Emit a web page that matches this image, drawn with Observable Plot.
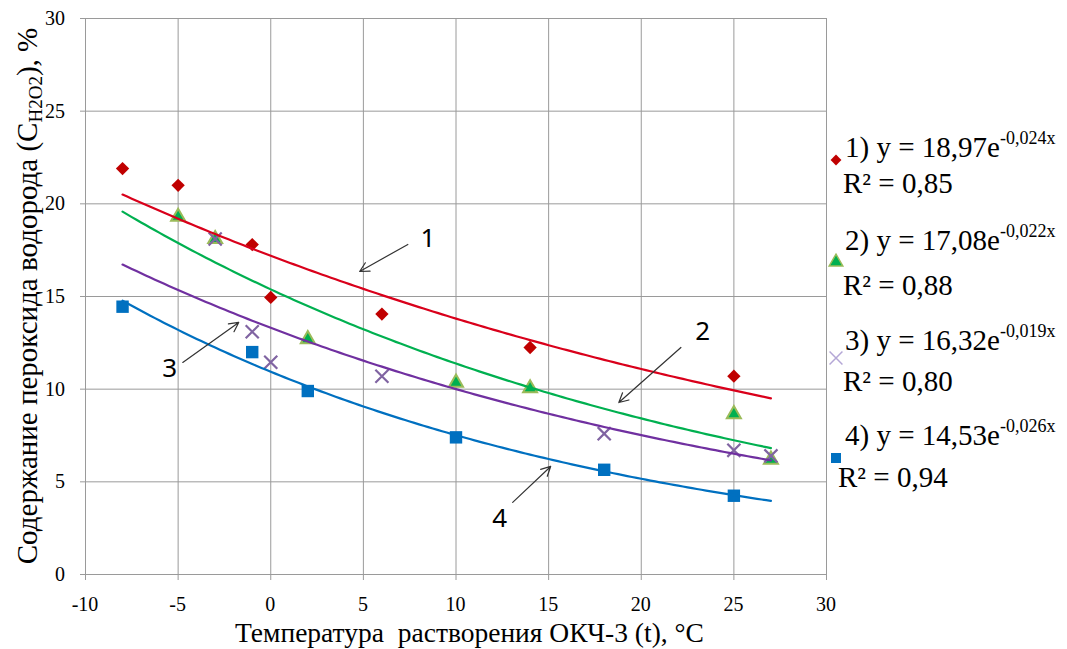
<!DOCTYPE html>
<html><head><meta charset="utf-8">
<script src="https://cdn.jsdelivr.net/npm/d3@7"></script>
<script src="https://cdn.jsdelivr.net/npm/@observablehq/plot@0.6"></script>
<style>
body{margin:0;background:#fff;}
#chart{position:relative;width:1067px;height:649px;overflow:hidden;}
#chart svg text.serif, #chart svg text.serif tspan {font-family:"Liberation Serif", serif;}
</style></head><body><div id="chart"></div>
<script>
// ---- data ----
const xTicks = [-10, -5, 0, 5, 10, 15, 20, 25, 30];
const yTicks = [0, 5, 10, 15, 20, 25, 30];

const s1x = [-8, -5, -1, 0, 6, 14, 25];
const s1y = [21.9, 21.0, 17.8, 14.95, 14.05, 12.25, 10.7];
const s2x = [-5, -3, 2, 10, 14, 25, 27];
const s2y = [19.3, 18.1, 12.7, 10.35, 10.05, 8.65, 6.2];
const s3x = [-3, -1, 0, 6, 18, 25, 27];
const s3y = [18.1, 13.1, 11.45, 10.7, 7.6, 6.7, 6.4];
const s4x = [-8, -1, 2, 10, 18, 25];
const s4y = [14.45, 12.0, 9.9, 7.4, 5.65, 4.25];
const trendRange = [-8, 27];

const legendEq = ["1) y = 18,97e", "2) y = 17,08e", "3) y = 16,32e", "4) y = 14,53e"];
const legendExp = ["-0,024x", "-0,022x", "-0,019x", "-0,026x"];
const legendR2 = ["R² = 0,85", "R² = 0,88", "R² = 0,80", "R² = 0,94"];

const annLabels = ["1", "2", "3", "4"];
const annTextX = [8.48, 23.32, -5.45, 12.36];
const annTextY = [18.13, 13.11, 11.12, 3.02];
const arrowX1 = [7.40, 22.14, -4.75, 13.06];
const arrowY1 = [17.81, 12.25, 11.44, 3.89];
const arrowX2 = [4.80, 18.79, -1.73, 15.11];
const arrowY2 = [16.35, 9.28, 13.6, 5.83];

const xTitle = "Температура  растворения ОКЧ-3 (t), °С";

// ---- helpers ----
const SERIF = "Liberation Serif";
const pts = (xs, ys) => xs.map((x, i) => ({x, y: ys[i]}));
// exponential least-squares trendline (Excel style: fit of ln y)
function expTrend(xs, ys) {
  const ly = ys.map(Math.log);
  const mx = d3.mean(xs), my = d3.mean(ly);
  let sxy = 0, sxx = 0;
  xs.forEach((x, i) => { sxy += (x - mx) * (ly[i] - my); sxx += (x - mx) ** 2; });
  const b = sxy / sxx, a = Math.exp(my - b * mx);
  const out = [];
  for (let x = trendRange[0]; x <= trendRange[1] + 1e-9; x += 0.25) out.push({x, y: a * Math.exp(b * x)});
  return out;
}

const d1 = pts(s1x, s1y), d2 = pts(s2x, s2y), d3p = pts(s3x, s3y), d4 = pts(s4x, s4y);
const ann = annLabels.map((t, i) => ({t, x: annTextX[i], y: annTextY[i], x1: arrowX1[i], y1: arrowY1[i], x2: arrowX2[i], y2: arrowY2[i]}));

const C = {
  red: "#C00000", redLine: "#D9001B",
  green: "#00B050", greenEdge: "#9BBB59",
  purple: "#7030A0", purpleMk: "#8064A2",
  blue: "#0070C0"
};

const plot = Plot.plot({
  width: 1067, height: 649,
  marginLeft: 85, marginRight: 241, marginTop: 18, marginBottom: 75,
  style: {background: "#fff", color: "#000"},
  x: {domain: [-10, 30]},
  y: {domain: [0, 30]},
  marks: [
    Plot.gridX(xTicks, {stroke: "#9a9a9a", strokeOpacity: 1}),
    Plot.gridY(yTicks, {stroke: "#9a9a9a", strokeOpacity: 1}),
    Plot.axisX(xTicks, {tickSize: 6, tickFormat: () => "", label: null, stroke: "#9a9a9a"}),
    Plot.axisY(yTicks, {tickSize: 5, tickFormat: () => "", label: null, stroke: "#9a9a9a"}),
    // markers
    Plot.dot(d1, {x: "x", y: "y", symbol: "diamond2", r: 6, fill: C.red}),
    Plot.dot(d2, {x: "x", y: "y", symbol: "triangle", r: 5.2, fill: C.green, stroke: C.greenEdge, strokeWidth: 2}),
    Plot.dot(d3p, {x: "x", y: "y", symbol: "times", r: 6, stroke: C.purpleMk, strokeWidth: 2.2}),
    Plot.dot(d4, {x: "x", y: "y", symbol: "square", r: 7, fill: C.blue}),
    // trendlines
    Plot.line(expTrend(s1x, s1y), {x: "x", y: "y", stroke: C.redLine, strokeWidth: 2.2}),
    Plot.line(expTrend(s2x, s2y), {x: "x", y: "y", stroke: C.green, strokeWidth: 2.2}),
    Plot.line(expTrend(s3x, s3y), {x: "x", y: "y", stroke: C.purple, strokeWidth: 2.2}),
    Plot.line(expTrend(s4x, s4y), {x: "x", y: "y", stroke: C.blue, strokeWidth: 2.2}),
    // annotations
    Plot.arrow(ann, {x1: "x1", y1: "y1", x2: "x2", y2: "y2", stroke: "#333", strokeWidth: 1.2, headLength: 13, headAngle: 55}),
    Plot.text(ann, {x: "x", y: "y", text: "t", fontSize: 26, fill: "#000"})
  ]
});
document.getElementById("chart").appendChild(plot);

const svg = d3.select(plot);
const xs = plot.scale("x"), ys = plot.scale("y");
const serifText = (sel) => sel.append("text").attr("class", "serif").attr("font-family", SERIF).attr("fill", "#000");

// serif tick labels placed with Plot's scales
xTicks.forEach(v => serifText(svg).attr("font-size", 20).attr("x", xs.apply(v)).attr("y", 611).attr("text-anchor", "middle").text(String(v)));
yTicks.forEach(v => serifText(svg).attr("font-size", 20).attr("x", 65).attr("y", ys.apply(v) + 7).attr("text-anchor", "end").text(String(v)));

// x title
serifText(svg).attr("font-size", 27.5)
  .attr("x", (xs.apply(-10) + xs.apply(30)) / 2 + 14).attr("y", 642)
  .attr("text-anchor", "middle").style("white-space", "pre")
  .text(xTitle);

// y title with subscript
const yt = serifText(svg).attr("font-size", 29)
  .attr("transform", `translate(37, ${ys.apply(15)}) rotate(-90)`)
  .attr("text-anchor", "middle");
yt.append("tspan").text("Содержание пероксида водорода (C");
yt.append("tspan").attr("font-size", 19).attr("dy", 5).text("H2O2");
yt.append("tspan").attr("dy", -5).text("), %");

// legend (right side)
const legBase = [157, 250, 350, 445];
const legR2Base = [193, 295, 391, 487];
const legR2X = [843, 843, 843, 838];
const symTypes = [d3.symbolDiamond2, d3.symbolTriangle, d3.symbolTimes, d3.symbolSquare];
const symSizes = [75, 80, 110, 100];
const mkY = [160, 262, 358, 458];
legendEq.forEach((eq, i) => {
  const t = serifText(svg).attr("x", 845).attr("y", legBase[i]).attr("text-anchor", "start").attr("font-size", 29);
  t.append("tspan").text(eq);
  t.append("tspan").attr("font-size", 18).attr("dy", -13).text(legendExp[i]);
  serifText(svg).attr("x", legR2X[i]).attr("y", legR2Base[i]).attr("text-anchor", "start").attr("font-size", 29).text(legendR2[i]);
  const p = svg.append("path").attr("d", d3.symbol(symTypes[i], symSizes[i])())
    .attr("transform", `translate(836, ${mkY[i]})`);
  if (i === 0) p.attr("fill", C.red);
  if (i === 1) p.attr("fill", C.green).attr("stroke", C.greenEdge).attr("stroke-width", 1.5);
  if (i === 2) p.attr("fill", "none").attr("stroke", "#B4A7D6").attr("stroke-width", 1.5);
  if (i === 3) p.attr("fill", C.blue);
});
</script></body></html>
